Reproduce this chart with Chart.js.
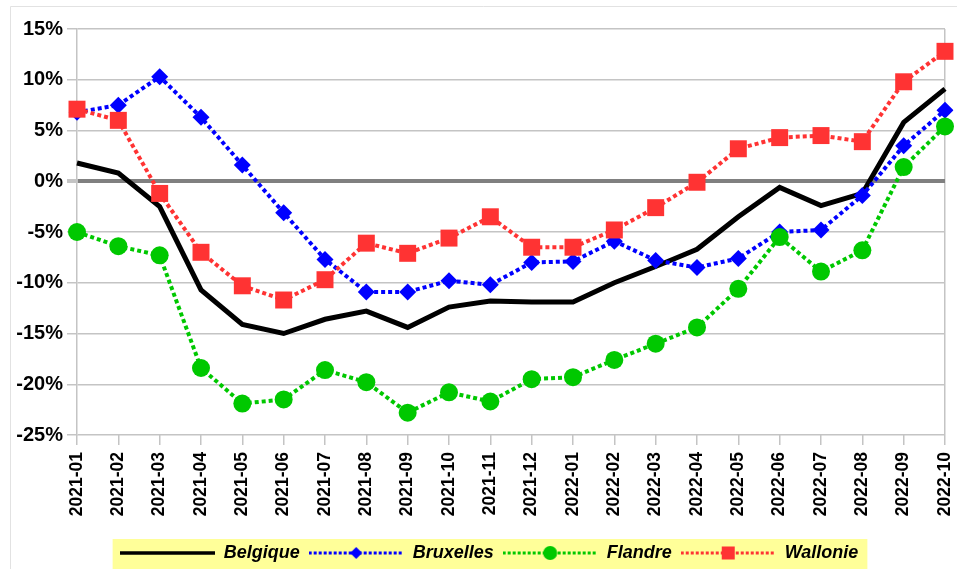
<!DOCTYPE html>
<html>
<head>
<meta charset="utf-8">
<title>Belgique / Bruxelles / Flandre / Wallonie</title>
<script src="https://cdn.jsdelivr.net/npm/chart.js@4.4.1/dist/chart.umd.min.js"></script>
<style>
    html, body { margin: 0; padding: 0; background: #fff; }
    #wrap { width: 957px; height: 569px; }
</style>
</head>
<body>
<div id="wrap"><canvas id="chart" width="957" height="569"></canvas></div>
<script>
// --- DATA ---
const months = ['2021-01', '2021-02', '2021-03', '2021-04', '2021-05', '2021-06', '2021-07', '2021-08',
    '2021-09', '2021-10', '2021-11', '2021-12', '2022-01', '2022-02', '2022-03', '2022-04',
    '2022-05', '2022-06', '2022-07', '2022-08', '2022-09', '2022-10'];
const belgique = [1.8, 0.8, -2.5, -10.7, -14.1, -15.0, -13.6, -12.8, -14.4, -12.4, -11.8,
    -11.9, -11.9, -10.0, -8.4, -6.7, -3.5, -0.6, -2.4, -1.2, 5.8, 9.1];
const bruxelles = [6.8, 7.5, 10.3, 6.3, 1.6, -3.1, -7.7, -10.9, -10.9, -9.8, -10.2,
    -8.0, -7.9, -5.9, -7.8, -8.5, -7.6, -5.0, -4.8, -1.4, 3.5, 7.0];
const flandre = [-5.0, -6.4, -7.3, -18.4, -21.9, -21.5, -18.6, -19.8, -22.8, -20.8, -21.7,
    -19.5, -19.3, -17.6, -16.0, -14.4, -10.6, -5.5, -8.9, -6.8, 1.4, 5.4];
const wallonie = [7.1, 6.0, -1.2, -7.0, -10.3, -11.7, -9.7, -6.1, -7.1, -5.6, -3.5,
    -6.5, -6.5, -4.8, -2.6, -0.1, 3.2, 4.3, 4.5, 3.9, 9.8, 12.8];
const yTicks = { min: -25, max: 15, step: 5 };

const FONT = 'Liberation Sans, Arial, sans-serif';
const GRID = '#c4c4c4';
const LEGEND_SHIFT_X = 16;
const LEGEND_SHIFT_Y = 3;

// --- LEGEND SAMPLES (line + marker, like the spreadsheet legend) ---
function legendSample(color, lineWidth, dashed, marker) {
    const c = document.createElement('canvas');
    c.width = 95;
    c.height = 20;
    const g = c.getContext('2d');
    g.strokeStyle = color;
    g.fillStyle = color;
    g.lineWidth = lineWidth;
    if (dashed) g.setLineDash([3, 2]);
    g.beginPath();
    g.moveTo(0, 10);
    g.lineTo(95, 10);
    g.stroke();
    g.setLineDash([]);
    g.beginPath();
    if (marker === 'diamond') {
        g.moveTo(47.5, 4); g.lineTo(53.5, 10); g.lineTo(47.5, 16); g.lineTo(41.5, 10);
        g.closePath();
        g.fill();
    } else if (marker === 'circle') {
        g.arc(47.5, 10, 7, 0, Math.PI * 2);
        g.fill();
    } else if (marker === 'square') {
        g.fillRect(41, 3.5, 13, 13);
    }
    return c;
}

// --- PLUGINS ---
const backdropPlugin = {
    id: 'backdrop',
    afterLayout(chart) {
        // the original legend sits a little right of the canvas centre
        const lg = chart.legend;
        if (!lg) return;
        lg.left += LEGEND_SHIFT_X;
        lg.right += LEGEND_SHIFT_X;
        lg.top += LEGEND_SHIFT_Y;
        lg.bottom += LEGEND_SHIFT_Y;
        (lg.legendHitBoxes || []).forEach(b => {
            b.left += LEGEND_SHIFT_X;
            b.top += LEGEND_SHIFT_Y;
        });
    },
    beforeDraw(chart) {
        const ctx = chart.ctx;
        ctx.save();
        // faint outer frame
        ctx.strokeStyle = '#e2e2e2';
        ctx.lineWidth = 1;
        ctx.beginPath();
        ctx.moveTo(10.5, chart.height);
        ctx.lineTo(10.5, 6.5);
        ctx.lineTo(chart.width, 6.5);
        ctx.stroke();
        // yellow legend box
        const boxes = chart.legend && chart.legend.legendHitBoxes;
        if (boxes && boxes.length) {
            const left = Math.min(...boxes.map(b => b.left)) - 7;
            const right = Math.max(...boxes.map(b => b.left + b.width)) + 9;
            const top = Math.min(...boxes.map(b => b.top)) - 8;
            const bottom = Math.max(...boxes.map(b => b.top + b.height)) + 8;
            ctx.fillStyle = '#ffff99';
            ctx.fillRect(left, top, right - left, bottom - top);
        }
        ctx.restore();
    }
};

// --- CHART ---
const series = [
    { label: 'Belgique', data: belgique, color: '#000000', width: 5, dash: [], style: false, radius: 0, order: 4,
      sample: legendSample('#000000', 3.5, false, null) },
    { label: 'Bruxelles', data: bruxelles, color: '#0000ff', width: 4, dash: [4, 3], style: 'rectRot', radius: 8.5, order: 3,
      sample: legendSample('#0000ff', 3, true, 'diamond') },
    { label: 'Flandre', data: flandre, color: '#00c800', width: 4, dash: [4, 3], style: 'circle', radius: 9, order: 2,
      sample: legendSample('#00c800', 3, true, 'circle') },
    { label: 'Wallonie', data: wallonie, color: '#ff3333', width: 4, dash: [4, 3], style: 'rect', radius: 12, order: 1,
      sample: legendSample('#ff3333', 3, true, 'square') }
];

new Chart(document.getElementById('chart'), {
    type: 'line',
    data: {
        labels: months,
        datasets: series.map(s => ({
            label: s.label,
            data: s.data,
            borderColor: s.color,
            backgroundColor: s.color,
            borderWidth: s.width,
            borderDash: s.dash,
            pointStyle: s.style,
            pointRadius: s.radius,
            pointHoverRadius: s.radius,
            pointBorderWidth: 0,
            pointBackgroundColor: s.color,
            tension: 0,
            fill: false,
            order: s.order
        }))
    },
    options: {
        responsive: false,
        animation: false,
        layout: { padding: { left: 0, right: 11, top: 29, bottom: 0 } },
        plugins: {
            tooltip: { enabled: false },
            legend: {
                position: 'bottom',
                labels: {
                    usePointStyle: true,
                    pointStyleWidth: 95,
                    padding: 9,
                    color: '#000',
                    font: { family: FONT, size: 18, weight: 'bold', style: 'italic' },
                    generateLabels(chart) {
                        return chart.data.datasets.map((ds, i) => ({
                            text: ds.label,
                            datasetIndex: i,
                            pointStyle: series[i].sample,
                            fillStyle: ds.borderColor,
                            strokeStyle: ds.borderColor,
                            lineWidth: 0,
                            fontColor: '#000',
                            hidden: !chart.isDatasetVisible(i)
                        }));
                    }
                }
            }
        },
        scales: {
            x: {
                offset: false,
                afterFit(s) {
                    const legendH = s.chart.legend ? s.chart.legend.height : 0;
                    s.height = s.chart.height - 435 - legendH;
                    s.paddingLeft = 0;
                    s.paddingRight = 0;
                },
                grid: {
                    drawOnChartArea: true,
                    color: ctx => ctx.index === months.length - 1 ? GRID : 'rgba(0,0,0,0)',
                    tickColor: GRID,
                    tickLength: 10,
                    lineWidth: 1.5
                },
                border: { display: false },
                ticks: {
                    autoSkip: false,
                    maxRotation: 90,
                    minRotation: 90,
                    padding: 7,
                    color: '#000',
                    font: { family: FONT, size: 17.5, weight: 'bold' }
                }
            },
            y: {
                min: yTicks.min,
                max: yTicks.max,
                afterFit(s) {
                    s.width = 77;
                    s.paddingTop = 0;
                    s.paddingBottom = 0;
                },
                grid: {
                    color: ctx => ctx.tick && ctx.tick.value === 0 ? '#808080' : GRID,
                    lineWidth: ctx => ctx.tick && ctx.tick.value === 0 ? 4 : 1.5,
                    tickColor: GRID,
                    tickLength: 10
                },
                border: { display: true, color: GRID, width: 1.5 },
                ticks: {
                    stepSize: yTicks.step,
                    padding: 4,
                    color: '#000',
                    font: { family: FONT, size: 20, weight: 'bold' },
                    callback: v => v + '%'
                }
            }
        }
    },
    plugins: [backdropPlugin]
});
</script>
</body>
</html>
